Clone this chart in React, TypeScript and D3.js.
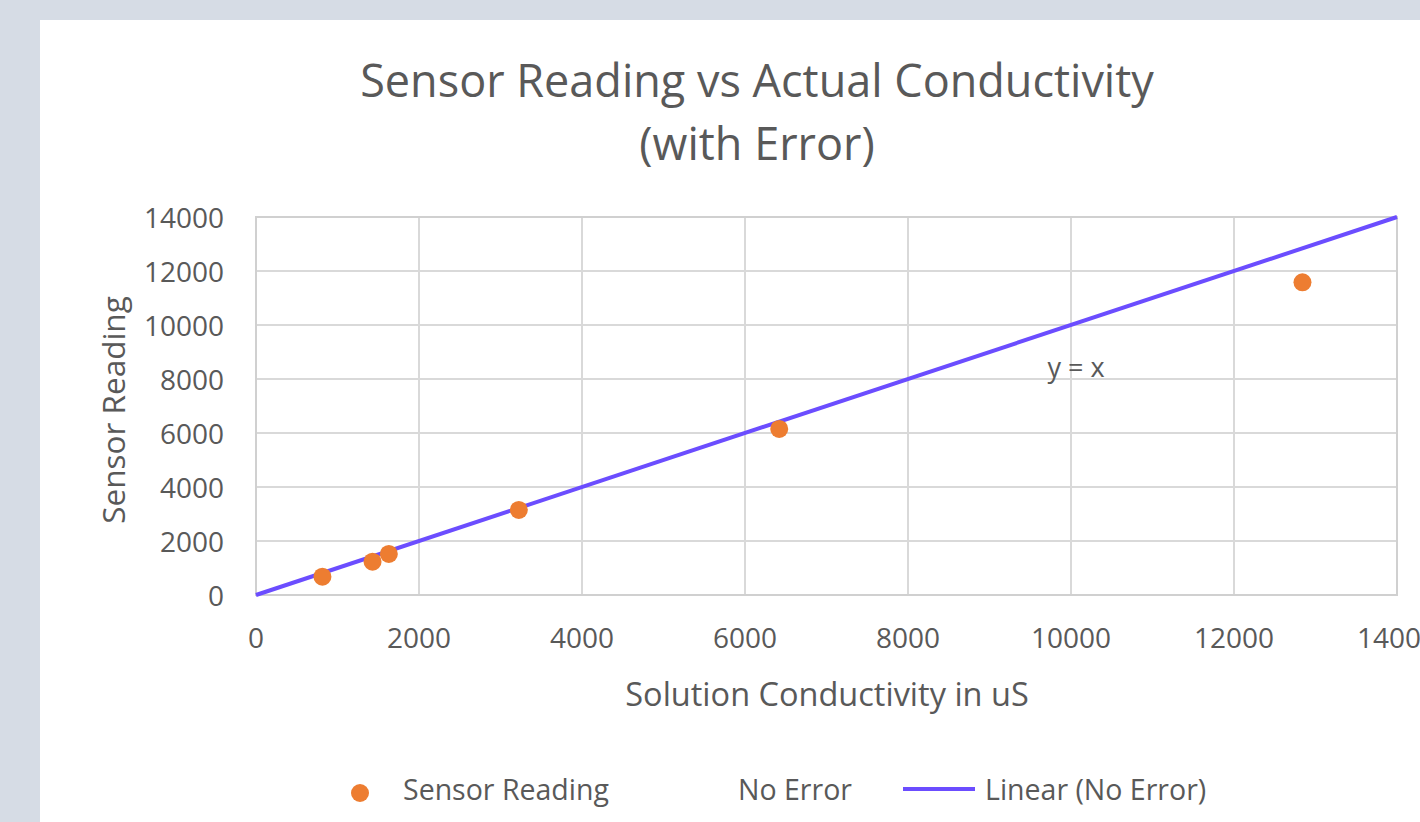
import React from "react";
import * as d3 from "d3";

const conductivity = [815, 1430, 1630, 3225, 6420, 12840];
const sensorReading = [680, 1235, 1520, 3150, 6150, 11580];
const trendX = [0, 14000];
const xTicks = [0, 2000, 4000, 6000, 8000, 10000, 12000, 14000];
const yTicks = [0, 2000, 4000, 6000, 8000, 10000, 12000, 14000];
const titleLines = ["Sensor Reading vs Actual Conductivity", "(with Error)"];
const legendItems = ["Sensor Reading", "No Error", "Linear (No Error)"];

const FONT = "'Open Sans', sans-serif";
const TEXT = "#595959";

export default function App() {
  const W = 1420, H = 822;
  const left = 256, right = 1397, top = 217, bottom = 595;
  const x = d3.scaleLinear().domain([0, 14000]).range([left, right]);
  const y = d3.scaleLinear().domain([0, 14000]).range([bottom, top]);
  const line = d3.line<number>().x((d) => x(d)).y((d) => y(d));

  return (
    <svg width={W} height={H} style={{ position: "absolute", left: 0, top: 0 }} fontFamily={FONT}>
      <rect x={0} y={0} width={W} height={H} fill="#d6dce5" />
      <rect x={40} y={20} width={W - 40} height={H - 20} fill="#ffffff" />
      {titleLines.map((t, i) => (
        <text key={t} x={757} y={79 + i * 63} textAnchor="middle" dominantBaseline="central" fontSize={45} fill={TEXT}>
          {t}
        </text>
      ))}
      {xTicks.map((t) => (
        <line key={"gx" + t} x1={x(t)} x2={x(t)} y1={top} y2={bottom} stroke="#d9d9d9" strokeWidth={2} />
      ))}
      {yTicks.map((t) => (
        <line key={"gy" + t} x1={left} x2={right} y1={y(t)} y2={y(t)} stroke="#d9d9d9" strokeWidth={2} />
      ))}
      <rect x={left} y={top} width={right - left} height={bottom - top} fill="none" stroke="#d0d0d0" strokeWidth={2} />
      {xTicks.map((t) => (
        <text key={"tx" + t} x={x(t)} y={637} textAnchor="middle" dominantBaseline="central" fontSize={28} fill={TEXT}>
          {t}
        </text>
      ))}
      {yTicks.map((t) => (
        <text key={"ty" + t} x={224} y={y(t)} textAnchor="end" dominantBaseline="central" fontSize={28} fill={TEXT}>
          {t}
        </text>
      ))}
      <text x={827} y={693} textAnchor="middle" dominantBaseline="central" fontSize={32.5} fill={TEXT}>
        Solution Conductivity in uS
      </text>
      <text transform={`translate(112,410) rotate(-90)`} textAnchor="middle" dominantBaseline="central" fontSize={31.5} fill={TEXT}>
        Sensor Reading
      </text>
      <path d={line(trendX) || ""} fill="none" stroke="#6b4dff" strokeWidth={4} />
      {conductivity.map((c, i) => (
        <circle key={"p" + i} cx={x(c)} cy={y(sensorReading[i])} r={9} fill="#ed7d31" />
      ))}
      <text x={1076} y={366} textAnchor="middle" dominantBaseline="central" fontSize={27} fill={TEXT}>
        y = x
      </text>
      <circle cx={360} cy={793} r={9} fill="#ed7d31" />
      <text x={403} y={789} dominantBaseline="central" fontSize={28.5} fill={TEXT}>{legendItems[0]}</text>
      <text x={738} y={789} dominantBaseline="central" fontSize={28.5} fill={TEXT}>{legendItems[1]}</text>
      <line x1={903} x2={975} y1={789} y2={789} stroke="#6b4dff" strokeWidth={4} />
      <text x={985} y={789} dominantBaseline="central" fontSize={28.5} fill={TEXT}>{legendItems[2]}</text>
    </svg>
  );
}
